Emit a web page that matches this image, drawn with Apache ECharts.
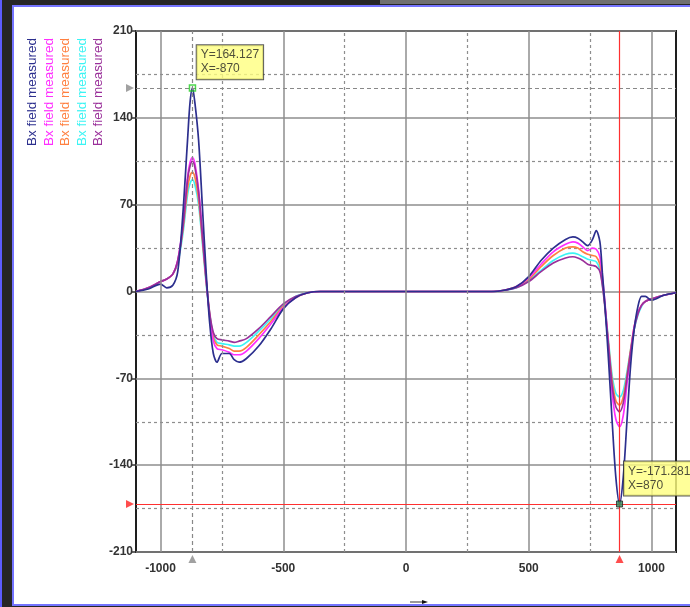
<!DOCTYPE html>
<html>
<head>
<meta charset="utf-8">
<script src="https://cdn.jsdelivr.net/npm/echarts@6/dist/echarts.min.js"></script>
<style>
html, body { margin:0; padding:0; width:690px; height:607px; overflow:hidden; background:#262626; }
#strip { position:absolute; left:0; top:0; width:2px; height:607px; background:#5c5cff; }
#topbar { position:absolute; left:380px; top:0; width:310px; height:4px; background:#707070; }
#panel { position:absolute; left:12px; top:5px; width:700px; height:597px; background:#fff; border:2px solid #7474ff; }
#chart { position:absolute; left:0; top:0; width:690px; height:607px; }
</style>
</head>
<body>
<div id="strip"></div>
<div id="topbar"></div>
<div id="panel"></div>
<div id="chart"></div>
<script>
// position along the sensor (x) and measured field of each run
var xPos = [-1100, -1050, -1000, -975, -950, -930, -910, -890, -880, -870, -860, -845, -830, -815, -800, -785, -770, -750, -720, -700,
  -680, -650, -600, -550, -500, -450, -400, -350, -200, 0, 200, 350, 400, 450, 500, 550, 600, 650, 680, 700,
  720, 740, 760, 775, 790, 800, 810, 825, 840, 855, 870, 885, 900, 915, 930, 945, 960, 975, 1000, 1050, 1100];

var bxNavy = [0, 2, 6, 3, 5, 16, 60, 122, 152, 164.127, 152, 122, 70, 18, -25, -50, -57, -50, -50, -55,
  -57, -54, -44, -30, -14, -5, -1, 0, 0, 0, 0, 0, 1, 4, 12, 25, 35, 42, 44, 43,
  40, 37, 42, 49, 40, 15, -10, -55, -105, -150, -171.281, -150, -105, -60, -30, -12, -4, -4, -7, -3, -1];

var bxMagenta = [0, 3, 8, 10, 14, 25, 52, 92, 104, 108, 103, 82, 48, 12, -20, -40, -46, -47, -49, -51,
  -51, -48, -38, -26, -13, -5, -1, 0, 0, 0, 0, 0, 1, 4, 11, 22, 32, 38, 40, 39,
  36, 33, 35, 34, 28, 12, -8, -45, -82, -103, -109, -100, -75, -50, -28, -17, -11, -8, -6, -3, -1];

var bxOrange = [0, 3, 8, 10, 14, 24, 48, 83, 93, 96, 92, 74, 43, 10, -18, -37, -43, -44, -46, -48,
  -48, -45, -35, -24, -12, -5, -1, 0, 0, 0, 0, 0, 1, 4, 10, 20, 29, 35, 36, 35,
  32, 30, 29, 28, 22, 8, -10, -42, -72, -88, -91.5, -85, -68, -47, -28, -17, -11, -8, -6, -3, -1];

var bxCyan = [0, 3, 8, 10, 14, 23, 45, 78, 87, 90, 86, 70, 40, 8, -18, -35, -41, -42, -43, -44,
  -44, -41, -32, -22, -11, -4, -1, 0, 0, 0, 0, 0, 1, 3, 9, 17, 25, 30, 31, 30,
  28, 26, 25, 24, 18, 6, -10, -40, -68, -82, -85, -80, -65, -47, -30, -19, -12, -8, -6, -3, -1];

var bxPurple = [0, 3, 8, 10, 14, 25, 50, 90, 101, 105, 100, 80, 46, 11, -17, -33, -38, -39, -40, -41,
  -40, -38, -30, -20, -10, -4, -1, 0, 0, 0, 0, 0, 1, 3, 8, 16, 23, 27, 28, 27,
  25, 22, 21, 20, 16, 5, -12, -44, -76, -93, -97, -90, -70, -49, -30, -18, -11, -8, -6, -3, -1];

var seriesNames = ['Bx field measured', 'Bx field measured', 'Bx field measured', 'Bx field measured', 'Bx field measured'];
var seriesColors = ['#2c2f8e', '#ff2eff', '#ff8040', '#3cf4f4', '#9a309a'];
var seriesValues = [bxNavy, bxMagenta, bxOrange, bxCyan, bxPurple];

var xTickLabels = [-1000, -500, 0, 500, 1000];
var xMinorGrid = [-750, -250, 250, 750];
var xMin = -1100, xMax = 1100, yMin = -210, yMax = 210, yStep = 70;

// cursors
var cursorA = [-870, 164.127];
var cursorB = [870, -171.281];

var font = 'Arial, "Liberation Sans", sans-serif';
var chart = echarts.init(document.getElementById('chart'));

function pairs(vals) {
  return xPos.map(function (x, i) { return [x, vals[i]]; });
}

var drawOrder = [3, 2, 1, 4, 0];
var curveSeries = drawOrder.map(function (i) {
  return {
    type: 'line', name: seriesNames[i] + i, data: pairs(seriesValues[i]),
    smooth: 0.3, showSymbol: false, symbol: 'none', z: 3,
    lineStyle: { color: seriesColors[i], width: 1.7 }
  };
});

function gridLines(name, list, style) {
  return {
    type: 'line', name: name, data: [], z: 1, silent: true,
    markLine: {
      silent: true, symbol: 'none', animation: false, label: { show: false },
      lineStyle: style, data: list
    }
  };
}

var option = {
  animation: false,
  grid: { left: 136, top: 31, right: 14, bottom: 55, show: true, borderColor: '#1e1e1e', borderWidth: 2, backgroundColor: 'transparent' },
  xAxis: {
    type: 'value', min: xMin, max: xMax,
    axisLine: { show: false, onZero: false }, axisTick: { show: false }, splitLine: { show: false },
    axisLabel: { customValues: xTickLabels, formatter: function (v) { return String(v); }, margin: 11,
      color: '#333', fontSize: 12, fontWeight: 'bold', fontFamily: font }
  },
  yAxis: {
    type: 'value', min: yMin, max: yMax, interval: yStep,
    axisLine: { show: false, onZero: false },
    axisTick: { show: true, length: 5, lineStyle: { color: '#333', width: 1.5 } },
    axisLabel: { margin: 3, color: '#333', fontSize: 12, fontWeight: 'bold', fontFamily: font },
    splitLine: { lineStyle: { color: '#8e8e8e', width: 1.5 } },
    minorTick: { show: false, splitNumber: 2 },
    minorSplitLine: { show: true, lineStyle: { color: '#8e8e8e', width: 1.2, type: [3, 3] } }
  },
  series: [
    gridLines('gx', xTickLabels.map(function (v) { return { xAxis: v }; }), { color: '#8e8e8e', width: 1.5, type: 'solid' }),
    gridLines('gxm', xMinorGrid.map(function (v) { return { xAxis: v }; }), { color: '#8e8e8e', width: 1.2, type: [3, 3] }),
    gridLines('cursorA', [{ xAxis: cursorA[0] }, { yAxis: cursorA[1] }], { color: '#888', width: 1.2, type: [4, 3] }),
    gridLines('cursorB', [{ xAxis: cursorB[0] }, { yAxis: cursorB[1] }], { color: '#ff3030', width: 1.2, type: 'solid' })
  ].concat(curveSeries).concat([
    {
      type: 'scatter', name: 'marks', z: 5, clip: false, silent: true,
      symbol: 'rect', symbolSize: 6,
      data: [
        { value: cursorA, itemStyle: { color: 'rgba(0,0,0,0)', borderColor: '#22cc22', borderWidth: 1.5 },
          label: { formatter: 'Y=' + cursorA[1] + '\nX=' + cursorA[0] } },
        { value: cursorB, itemStyle: { color: '#2e8a5a', borderColor: '#222', borderWidth: 1 },
          label: { formatter: 'Y=' + cursorB[1] + '\nX=' + cursorB[0] } }
      ],
      label: {
        show: true, position: [8, -39], align: 'left', verticalAlign: 'top',
        backgroundColor: '#ffff80', borderColor: '#333', borderWidth: 1,
        padding: [3, 4, 3, 4], lineHeight: 14, fontSize: 12, color: '#222', fontFamily: font
      }
    },
    {
      type: 'scatter', name: 'axisMarks', z: 5, clip: false, silent: true,
      symbol: 'triangle', symbolSize: 8,
      data: [
        { value: [xMin, cursorA[1]], symbolRotate: -90, symbolOffset: [-6, 0], itemStyle: { color: '#8a8a8a' } },
        { value: [cursorA[0], yMin], symbolOffset: [0, 7], itemStyle: { color: '#8a8a8a' } },
        { value: [xMin, cursorB[1]], symbolRotate: -90, symbolOffset: [-6, 0], itemStyle: { color: '#ff2020' } },
        { value: [cursorB[0], yMin], symbolOffset: [0, 7], itemStyle: { color: '#ff2020' } }
      ]
    }
  ]),
  graphic: seriesNames.map(function (n, i) {
    return {
      type: 'text', x: [32, 49, 65, 82, 98][i], y: 146, rotation: Math.PI / 2,
      style: { text: n, fill: seriesColors[i], font: '13.5px ' + font, textAlign: 'left', textVerticalAlign: 'middle' }
    };
  }).concat([
    { type: 'line', shape: { x1: 410, y1: 602, x2: 424, y2: 602 }, style: { stroke: '#999', lineWidth: 2 } },
    { type: 'polygon', shape: { points: [[422, 600], [428, 602], [422, 604]] }, style: { fill: '#111' } }
  ])
};

chart.setOption(option);
</script>
</body>
</html>
